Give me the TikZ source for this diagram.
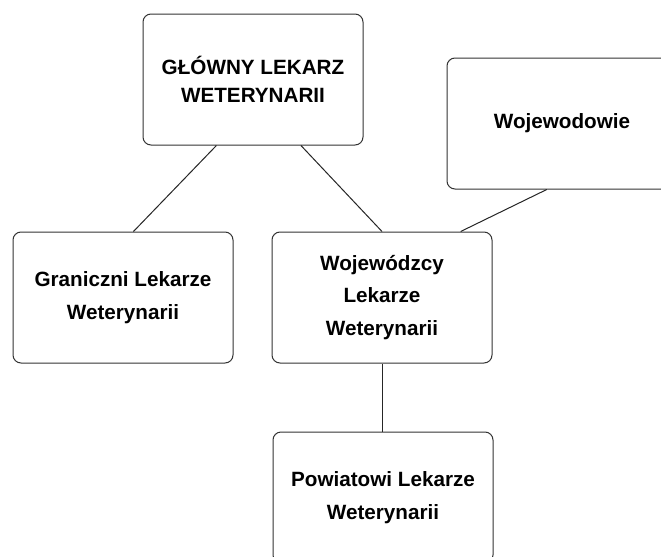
\documentclass[tikz,border=0pt]{standalone}
\usepackage{fontspec}
\setmainfont{Liberation Sans}
\usepackage{tikz}
\usetikzlibrary{calc}
\tikzset{
    unit/.style={draw=black!80, fill=white, rounded corners=6pt, line width=0.75pt, minimum width=165pt, minimum height=98.25pt, inner sep=0pt, align=center, font=\bfseries\fontsize{15.5}{24.5}\selectfont},
    link/.style={draw=black!85, line width=0.75pt}
}

\begin{document}
\begin{tikzpicture}[x=0.75pt, y=-0.75pt]
    \useasboundingbox (0,0) rectangle (661,557);
    \clip (0,0) rectangle (661,557);
    \fill[white] (0,0) rectangle (661,557);
    % urzedy
    \node[unit, font=\bfseries\fontsize{15.5}{21}\selectfont] (glowny) at (253,79.5) {GŁÓWNY LEKARZ\\WETERYNARII};
    \node[unit, minimum width=172.5pt] (wojewodowie) at (562,123.5) {Wojewodowie};
    \node[unit] (graniczni) at (123,297.5) {Graniczni Lekarze\\Weterynarii};
    \node[unit] (wojewodzcy) at (382,297.5) {Wojewódzcy\\Lekarze\\Weterynarii};
    \node[unit] (powiatowi) at (383,497.5) {Powiatowi Lekarze\\Weterynarii};
    % polaczenia
    \draw[link] (glowny.241.9) -- (graniczni.81.3);
    \draw[link] (glowny.306.8) -- (wojewodzcy.north);
    \draw[link] (wojewodowie.257.1) -- (wojewodzcy.40.8);
    \draw[link] (wojewodzcy.south) -- (wojewodzcy.south |- powiatowi.north);
\end{tikzpicture}
\end{document}
